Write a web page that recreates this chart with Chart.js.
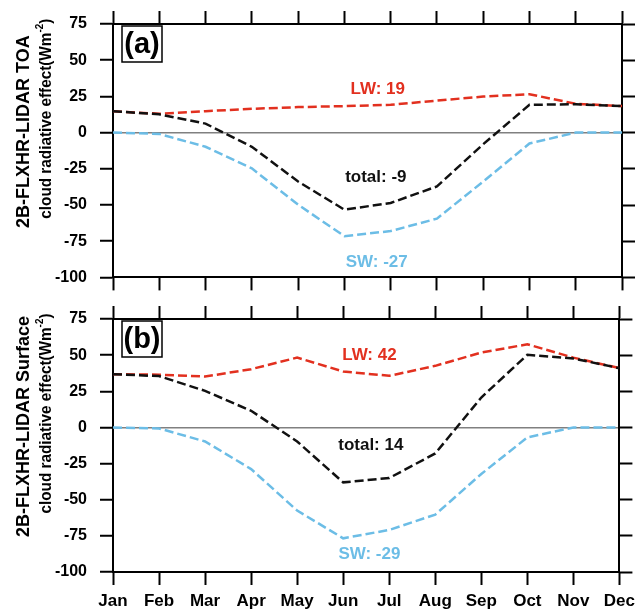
<!DOCTYPE html>
<html>
<head>
<meta charset="utf-8">
<script src="https://cdn.jsdelivr.net/npm/chart.js@4.4.1/dist/chart.umd.min.js"></script>
<style>
  body { margin: 0; background: #fff; }
  canvas { position: absolute; left: 0; }
  #toa { top: 0; }
  #sfc { top: 295px; }
</style>
</head>
<body>
<canvas id="toa" width="641" height="300"></canvas>
<canvas id="sfc" width="641" height="318"></canvas>
<script>
// monthly cloud radiative effect, W m-2
const months = ["Jan", "Feb", "Mar", "Apr", "May", "Jun", "Jul", "Aug", "Sep", "Oct", "Nov", "Dec"];
const yTicks = [-100, -75, -50, -25, 0, 25, 50, 75];

const toaLW    = [14.8, 13.0, 14.8, 16.4, 17.6, 18.3, 19.2, 22.1, 24.9, 26.5, 19.9, 18.3];
const toaSW    = [0, -0.9, -9.8, -24.7, -49.8, -71.5, -68.0, -59.4, -33.8, -7.5, 0, 0];
const toaTotal = [14.8, 12.6, 6.2, -9.8, -33.8, -53.2, -48.6, -37.2, -8.0, 19.2, 19.6, 18.3];

const sfcLW    = [36.8, 36.5, 35.2, 40.3, 48.3, 38.7, 35.7, 42.6, 51.8, 57.5, 48.3, 41.0];
const sfcSW    = [0, -0.7, -9.7, -28.8, -57.5, -76.7, -70.9, -60.3, -32.2, -6.9, 0, 0];
const sfcTotal = [36.8, 35.5, 25.3, 11.5, -9.7, -38.0, -35.0, -18.0, 20.7, 50.2, 47.7, 41.0];

// annual means printed inside each panel
const toaMeans = { lw: "LW: 19", total: "total: -9", sw: "SW: -27" };
const sfcMeans = { lw: "LW: 42", total: "total: 14", sw: "SW: -29" };

const RED = "#e2301f";
const BLUE = "#6cbde6";
const BLACK = "#111111";
const FONT = "'Liberation Sans', Arial, Helvetica, sans-serif";

// where the mean labels sit, in (month index, W m-2) units
const notePos = {
  toa: { lw: [5.72, 30], total: [5.68, -31], sw: [5.7, -89.5] },
  sfc: { lw: [5.57, 50], total: [5.6, -12.6], sw: [5.57, -87.5] },
};

// y title is drawn by hand: NCL puts it a bit above the panel centre,
// squeezes the second line and uses a real superscript for the units
function drawYTitle(ctx, chartArea, line1) {
  const mid = (chartArea.top + chartArea.bottom) / 2;
  ctx.save();
  ctx.fillStyle = "#000";
  ctx.textBaseline = "middle";

  ctx.save();
  ctx.translate(24, mid - 19);
  ctx.rotate(-Math.PI / 2);
  ctx.font = `bold 18px ${FONT}`;
  ctx.textAlign = "center";
  ctx.fillText(line1, 0, 0);
  ctx.restore();

  ctx.save();
  ctx.translate(46, mid - 32);
  ctx.rotate(-Math.PI / 2);
  ctx.textAlign = "left";
  const big = `bold 17px ${FONT}`, small = `bold 11px ${FONT}`;
  const parts = [["cloud radiative effect(Wm", big, 0], ["-2", small, -6], [")", big, 0]];
  let total = 0;
  for (const [t, f] of parts) { ctx.font = f; total += ctx.measureText(t).width; }
  ctx.scale(200 / total, 1);
  let x = -total / 2;
  for (const [t, f, dy] of parts) {
    ctx.font = f;
    ctx.fillText(t, x, dy);
    x += ctx.measureText(t).width;
  }
  ctx.restore();
  ctx.restore();
}

const panelDecor = {
  id: "panelDecor",
  afterDatasetsDraw(chart, args, opts) {
    const { ctx, chartArea } = chart;
    const xs = chart.scales.x, ys = chart.scales.y;
    ctx.save();
    ctx.font = `bold 17px ${FONT}`;
    ctx.textAlign = "center";
    ctx.textBaseline = "middle";
    for (const key of ["lw", "total", "sw"]) {
      const [mx, my] = opts.pos[key];
      ctx.fillStyle = { lw: RED, total: BLACK, sw: BLUE }[key];
      ctx.fillText(opts.means[key], xs.getPixelForValue(mx), ys.getPixelForValue(my));
    }
    // panel tag in a box
    const bx = chartArea.left + 9, by = chartArea.top + 2;
    ctx.fillStyle = "#fff";
    ctx.fillRect(bx, by, 40, 36);
    ctx.strokeStyle = "#000";
    ctx.lineWidth = 1.5;
    ctx.strokeRect(bx, by, 40, 36);
    ctx.fillStyle = "#000";
    ctx.font = `bold 29px ${FONT}`;
    ctx.fillText(opts.tag, bx + 20, by + 19);
    ctx.restore();
    drawYTitle(ctx, chartArea, opts.title);
  },
};

function line(data, color) {
  return {
    data,
    borderColor: color,
    borderWidth: 2.5,
    borderDash: [9, 4],
    pointRadius: 0,
    tension: 0,
    fill: false,
  };
}

function makePanel(id, titleLine, lw, sw, total, means, pos, tag, showMonths, bottomH) {
  const frame = { display: true, color: "#000", width: 2 };
  const tickGrid = { drawOnChartArea: false, tickLength: 13, tickColor: "#000", tickWidth: 2 };
  return new Chart(document.getElementById(id), {
    type: "line",
    data: {
      labels: months,
      datasets: [line(total, BLACK), line(sw, BLUE), line(lw, RED)],
    },
    options: {
      responsive: false,
      animation: false,
      layout: { padding: 0 },
      plugins: {
        legend: { display: false },
        tooltip: { enabled: false },
        panelDecor: { means, pos, tag, title: titleLine },
      },
      scales: {
        x: {
          type: "category",
          position: "bottom",
          border: frame,
          grid: tickGrid,
          ticks: {
            display: showMonths,
            color: "#000",
            padding: 6,
            maxRotation: 0,
            autoSkip: false,
            font: { family: FONT, size: 17, weight: "bold" },
          },
          afterFit: (s) => { s.height = bottomH; },
        },
        x2: {
          type: "category",
          position: "top",
          border: frame,
          grid: tickGrid,
          ticks: { display: false },
          afterFit: (s) => { s.height = 24; },
        },
        y: {
          position: "left",
          min: -100,
          max: 75,
          afterBuildTicks: (s) => { s.ticks = yTicks.map((v) => ({ value: v })); },
          border: frame,
          grid: {
            drawOnChartArea: true,
            color: (c) => (c.tick && c.tick.value === 0 ? "#808080" : "rgba(0,0,0,0)"),
            lineWidth: 1.5,
            tickLength: 13,
            tickColor: "#000",
            tickWidth: 2,
          },
          ticks: {
            color: "#000",
            padding: 13,
            font: { family: FONT, size: 16, weight: "bold" },
          },
          afterFit: (s) => { s.width = 113; },
        },
        y2: {
          position: "right",
          min: -100,
          max: 75,
          afterBuildTicks: (s) => { s.ticks = yTicks.map((v) => ({ value: v })); },
          border: frame,
          grid: tickGrid,
          ticks: { display: false },
          afterFit: (s) => { s.width = 19; },
        },
      },
    },
    plugins: [panelDecor],
  });
}

makePanel("toa", "2B-FLXHR-LIDAR TOA", toaLW, toaSW, toaTotal, toaMeans, notePos.toa, "(a)", false, 22);
makePanel("sfc", "2B-FLXHR-LIDAR Surface", sfcLW, sfcSW, sfcTotal, sfcMeans, notePos.sfc, "(b)", true, 41);
</script>
</body>
</html>
